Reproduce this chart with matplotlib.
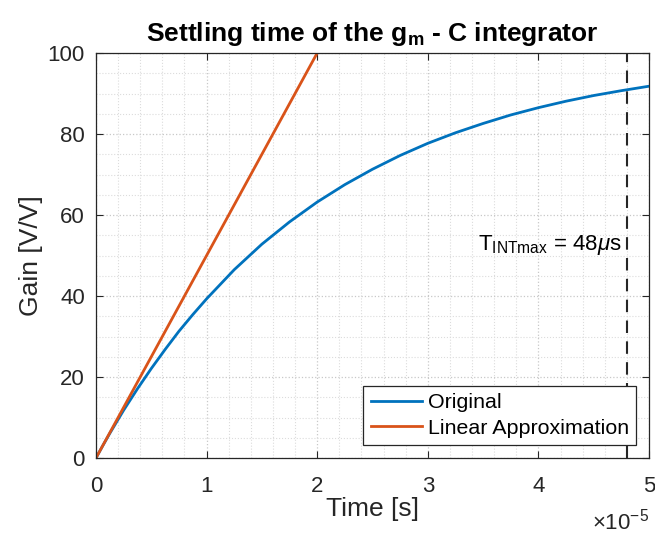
import matplotlib
matplotlib.use("Agg")
import matplotlib.pyplot as plt
from matplotlib.ticker import MultipleLocator, FuncFormatter

plt.rcParams['font.family'] = ['Liberation Sans', 'DejaVu Sans']
plt.rcParams['mathtext.fontset'] = 'custom'
plt.rcParams['mathtext.rm'] = 'Liberation Sans'
plt.rcParams['mathtext.it'] = 'Liberation Sans:italic'
plt.rcParams['mathtext.bf'] = 'Liberation Sans:bold'

# time samples [s] and gain of the integrator output [V/V]
t_orig = [0, 0.0625e-5, 0.125e-5, 0.25e-5, 0.375e-5, 0.5e-5, 0.625e-5, 0.75e-5,
          0.875e-5, 1.0e-5, 1.25e-5, 1.5e-5, 1.75e-5, 2.0e-5,
          2.25e-5, 2.5e-5, 2.75e-5, 3.0e-5, 3.25e-5, 3.5e-5, 3.75e-5, 4.0e-5,
          4.25e-5, 4.5e-5, 4.75e-5, 5.0e-5]
gain_orig = [0, 3.1, 6.1, 11.8, 17.1, 22.1, 26.8, 31.3,
             35.4, 39.3, 46.5, 52.8, 58.3, 63.2,
             67.5, 71.3, 74.7, 77.7, 80.3, 82.6, 84.7, 86.5,
             88.1, 89.5, 90.7, 91.8]

t_lin = [0, 2.0e-5]
gain_lin = [0, 100]

t_int_max = 4.8e-5
x_scale = 1e-5

dark = (0.15, 0.15, 0.15)

fig = plt.figure(figsize=(6.55, 5.35), dpi=100)
ax = fig.add_axes([96/655, 1 - 458/535, 553/655, 405/535])

ax.plot(t_orig, gain_orig, color='#0072BD', lw=2.0, label='Original')
ax.plot(t_lin, gain_lin, color='#D95319', lw=2.0, label='Linear Approximation')
ax.axvline(t_int_max, color=dark, lw=1.5, ls=(0, (6, 4)))
ax.text(3.45e-5, 52.5, r'T$_{\rm INTmax}$ = 48$\mathit{\mu}$s', fontsize=16,
        va='center', ha='left', color='black')

ax.set_xlim(0, 5e-5)
ax.set_ylim(0, 100)
ax.xaxis.set_major_locator(MultipleLocator(1e-5))
ax.xaxis.set_minor_locator(MultipleLocator(0.2e-5))
ax.yaxis.set_major_locator(MultipleLocator(20))
ax.yaxis.set_minor_locator(MultipleLocator(5))
ax.xaxis.set_major_formatter(FuncFormatter(lambda v, p: f'{v / x_scale:g}'))
ax.text(1.0, -0.125, r'$\times$10$^{\mathrm{-5}}$', transform=ax.transAxes,
        ha='right', va='top', fontsize=16, color=dark)

ax.grid(which='major', ls=':', color='#c8c8c8', lw=0.9)
ax.grid(which='minor', ls=':', color='#dcdcdc', lw=0.8)
ax.set_axisbelow(True)

ax.tick_params(which='both', direction='in', top=True, right=True, colors=dark,
               labelsize=16)
ax.tick_params(which='major', length=5)
ax.tick_params(axis='x', which='major', pad=13)
ax.tick_params(axis='y', which='major', pad=8)
ax.tick_params(which='minor', length=0)
for s in ax.spines.values():
    s.set_color(dark)
    s.set_linewidth(0.9)

ax.set_xlabel('Time [s]', fontsize=19, color=dark, labelpad=0)
ax.set_ylabel('Gain [V/V]', fontsize=19, color=dark, labelpad=3)
ax.set_title(r'Settling time of the g$_\mathbf{m}$ - C integrator', fontsize=19,
             fontweight='bold', pad=9)

leg = ax.legend(loc='lower right', fontsize=15.4, fancybox=False, framealpha=1,
                edgecolor=dark, handlelength=2.4, handletextpad=0.25,
                borderpad=0.35, labelspacing=0.3, borderaxespad=0.6)
leg.get_frame().set_linewidth(0.9)

fig.savefig('out.png', dpi=100)
